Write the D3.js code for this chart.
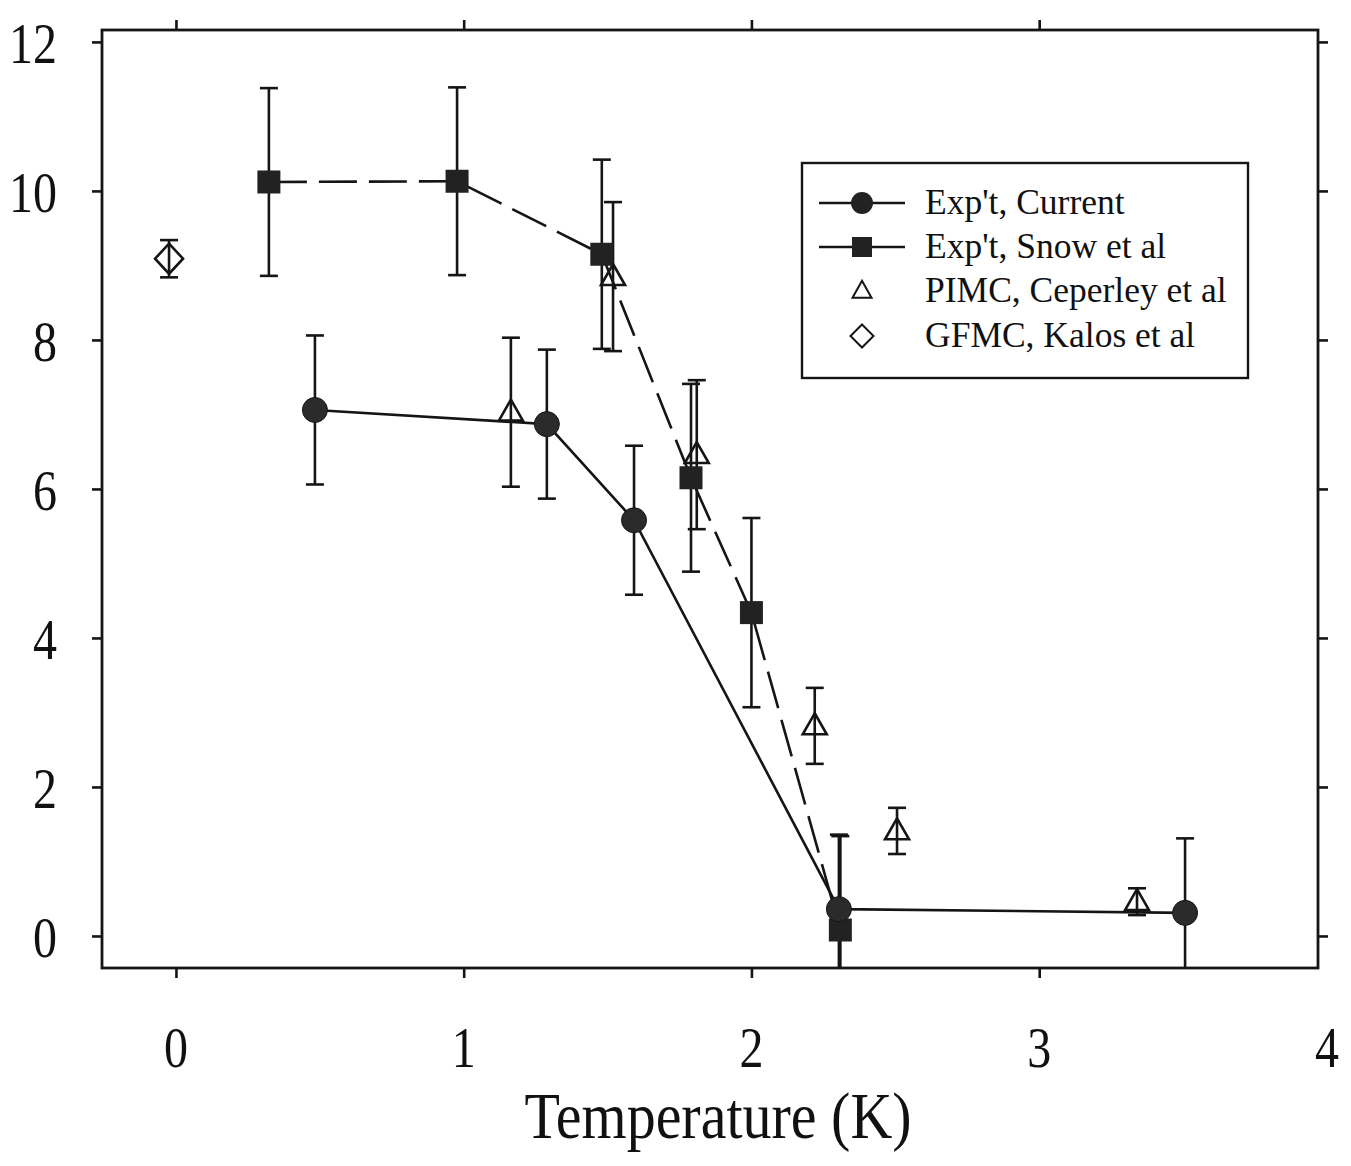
<!DOCTYPE html>
<html>
<head>
<meta charset="utf-8">
<script src="https://cdn.jsdelivr.net/npm/d3@7"></script>
<style>
  html, body { margin: 0; padding: 0; background: #fff; }
  svg { display: block; }
  text { font-family: "Liberation Serif", "Times New Roman", serif; fill: #111; }
</style>
</head>
<body>
<script>
// ---------- data ----------
const currentT   = [0.483, 1.289, 1.592, 2.304, 3.507];
const currentV   = [7.06, 6.87, 5.58, 0.36, 0.31];
const currentErr = [1.0, 1.0, 1.0, 1.0, 1.0];

const snowT   = [0.323, 0.977, 1.48, 1.79, 2.00, 2.309];
const snowV   = [10.12, 10.13, 9.15, 6.15, 4.34, 0.08];
const snowErr = [1.26, 1.26, 1.27, 1.26, 1.27, 1.26];

const pimcT   = [1.164, 1.519, 1.81, 2.22, 2.506, 3.34];
const pimcV   = [7.03, 8.85, 6.46, 2.82, 1.41, 0.46];
const pimcErr = [1.0, 1.0, 1.0, 0.51, 0.31, 0.18];

const gfmcT   = [-0.024];
const gfmcV   = [9.09];
const gfmcErr = [0.25];

const xTicks = [0, 1, 2, 3, 4];
const yTicks = [0, 2, 4, 6, 8, 10, 12];
const xTitle = "Temperature (K)";
const legendLabels = ["Exp't, Current", "Exp't, Snow et al", "PIMC, Ceperley et al", "GFMC, Kalos et al"];

// ---------- layout ----------
const W = 1351, H = 1166;
const L = 102, R = 1318, T = 30, B = 968;

const x = d3.scaleLinear().domain([-0.257, 3.969]).range([L, R]);
const y = d3.scaleLinear().domain([-0.43, 12.16]).range([B, T]);

const svg = d3.select("body").append("svg").attr("width", W).attr("height", H);
svg.append("rect").attr("width", W).attr("height", H).attr("fill", "#fff");

svg.append("defs").append("clipPath").attr("id", "plotclip")
  .append("rect").attr("x", L).attr("y", T).attr("width", R - L).attr("height", B - T);

const ink = "#151515";
const sw = 2.6;

// ---------- ticks (outward, all four sides) ----------
const tickAxes = [
  [d3.axisBottom(x).tickValues([0, 1, 2, 3]), `translate(0,${B})`],
  [d3.axisTop(x).tickValues([0, 1, 2, 3]), `translate(0,${T})`],
  [d3.axisLeft(y).tickValues(yTicks), `translate(${L},0)`],
  [d3.axisRight(y).tickValues(yTicks), `translate(${R},0)`]
];
tickAxes.forEach(([ax, tr]) => {
  const g = svg.append("g").attr("transform", tr)
    .call(ax.tickSize(10).tickFormat(""));
  g.select(".domain").remove();
  g.selectAll(".tick line").attr("stroke", ink).attr("stroke-width", sw);
});

// frame
svg.append("rect").attr("x", L).attr("y", T).attr("width", R - L).attr("height", B - T)
  .attr("fill", "none").attr("stroke", ink).attr("stroke-width", 2.8);

// tick labels (vertically stretched serif like the scan)
svg.append("g").selectAll("text").data(xTicks).join("text")
  .attr("transform", d => `translate(${x(d)},1067) scale(1,1.18)`)
  .attr("text-anchor", "middle").attr("font-size", 48).text(d => d);

svg.append("g").selectAll("text").data(yTicks).join("text")
  .attr("transform", d => `translate(57,${y(d) + 21}) scale(1,1.18)`)
  .attr("text-anchor", "end").attr("font-size", 48).text(d => d);

svg.append("text")
  .attr("transform", `translate(718,1138) scale(1,1.14)`)
  .attr("text-anchor", "middle").attr("font-size", 58).text(xTitle);

// ---------- plot ----------
const plot = svg.append("g").attr("clip-path", "url(#plotclip)");

const zip = (a, b, e) => a.map((t, i) => ({ t, v: b[i], e: e[i] }));
const current = zip(currentT, currentV, currentErr);
const snow = zip(snowT, snowV, snowErr);
const pimc = zip(pimcT, pimcV, pimcErr);
const gfmc = zip(gfmcT, gfmcV, gfmcErr);

const line = d3.line().x(d => x(d.t)).y(d => y(d.v));

plot.append("path").datum(snow).attr("d", line)
  .attr("fill", "none").attr("stroke", ink).attr("stroke-width", sw)
  .attr("stroke-dasharray", "38,12");
plot.append("path").datum(current).attr("d", line)
  .attr("fill", "none").attr("stroke", ink).attr("stroke-width", sw);

function errorBars(data, cap) {
  const g = plot.append("g").attr("stroke", ink).attr("stroke-width", sw);
  data.forEach(d => {
    const xc = x(d.t), y1 = y(d.v + d.e), y2 = y(d.v - d.e);
    g.append("line").attr("x1", xc).attr("x2", xc).attr("y1", y1).attr("y2", y2);
    g.append("line").attr("x1", xc - cap).attr("x2", xc + cap).attr("y1", y1).attr("y2", y1);
    g.append("line").attr("x1", xc - cap).attr("x2", xc + cap).attr("y1", y2).attr("y2", y2);
  });
}
errorBars(snow, 9);
errorBars(current, 9);
errorBars(pimc, 9);
errorBars(gfmc, 9);

// marker shapes
const triPath = (w, h) => `M0,${-h * 0.6}L${w / 2},${h * 0.4}L${-w / 2},${h * 0.4}Z`;
const diaPath = (w, h) => `M0,${-h / 2}L${w / 2},0L0,${h / 2}L${-w / 2},0Z`;

plot.append("g").selectAll("path").data(pimc).join("path")
  .attr("transform", d => `translate(${x(d.t)},${y(d.v)})`)
  .attr("d", triPath(24, 21)).attr("fill", "none").attr("stroke", ink).attr("stroke-width", sw);

plot.append("g").selectAll("path").data(gfmc).join("path")
  .attr("transform", d => `translate(${x(d.t)},${y(d.v)})`)
  .attr("d", diaPath(28, 30)).attr("fill", "none").attr("stroke", ink).attr("stroke-width", sw);

plot.append("g").selectAll("rect").data(snow).join("rect")
  .attr("x", d => x(d.t) - 11.5).attr("y", d => y(d.v) - 11.5)
  .attr("width", 23).attr("height", 23).attr("fill", "#222");

plot.append("g").selectAll("circle").data(current).join("circle")
  .attr("cx", d => x(d.t)).attr("cy", d => y(d.v)).attr("r", 12.5)
  .attr("fill", "#2b2b2b").attr("stroke", ink).attr("stroke-width", 1);

// ---------- legend ----------
const lg = svg.append("g");
lg.append("rect").attr("x", 802).attr("y", 163).attr("width", 446).attr("height", 215)
  .attr("fill", "#fff").attr("stroke", ink).attr("stroke-width", 2.4);

const rowY = [203, 247, 291, 336];
const mx = 862;
legendLabels.forEach((lab, i) => {
  const cy = rowY[i];
  if (i < 2) {
    lg.append("line").attr("x1", 819).attr("x2", 905).attr("y1", cy).attr("y2", cy)
      .attr("stroke", ink).attr("stroke-width", sw);
  }
  if (i === 0) lg.append("circle").attr("cx", mx).attr("cy", cy).attr("r", 11).attr("fill", "#222");
  if (i === 1) lg.append("rect").attr("x", mx - 10).attr("y", cy - 10).attr("width", 20).attr("height", 20).attr("fill", "#222");
  if (i === 2) lg.append("path").attr("transform", `translate(${mx},${cy})`).attr("d", triPath(19, 17))
    .attr("fill", "none").attr("stroke", ink).attr("stroke-width", 2);
  if (i === 3) lg.append("path").attr("transform", `translate(${mx},${cy})`).attr("d", diaPath(23, 23))
    .attr("fill", "none").attr("stroke", ink).attr("stroke-width", 2);
  lg.append("text").attr("x", 925).attr("y", cy + 11).attr("font-size", 35.5).text(lab);
});
</script>
</body>
</html>
